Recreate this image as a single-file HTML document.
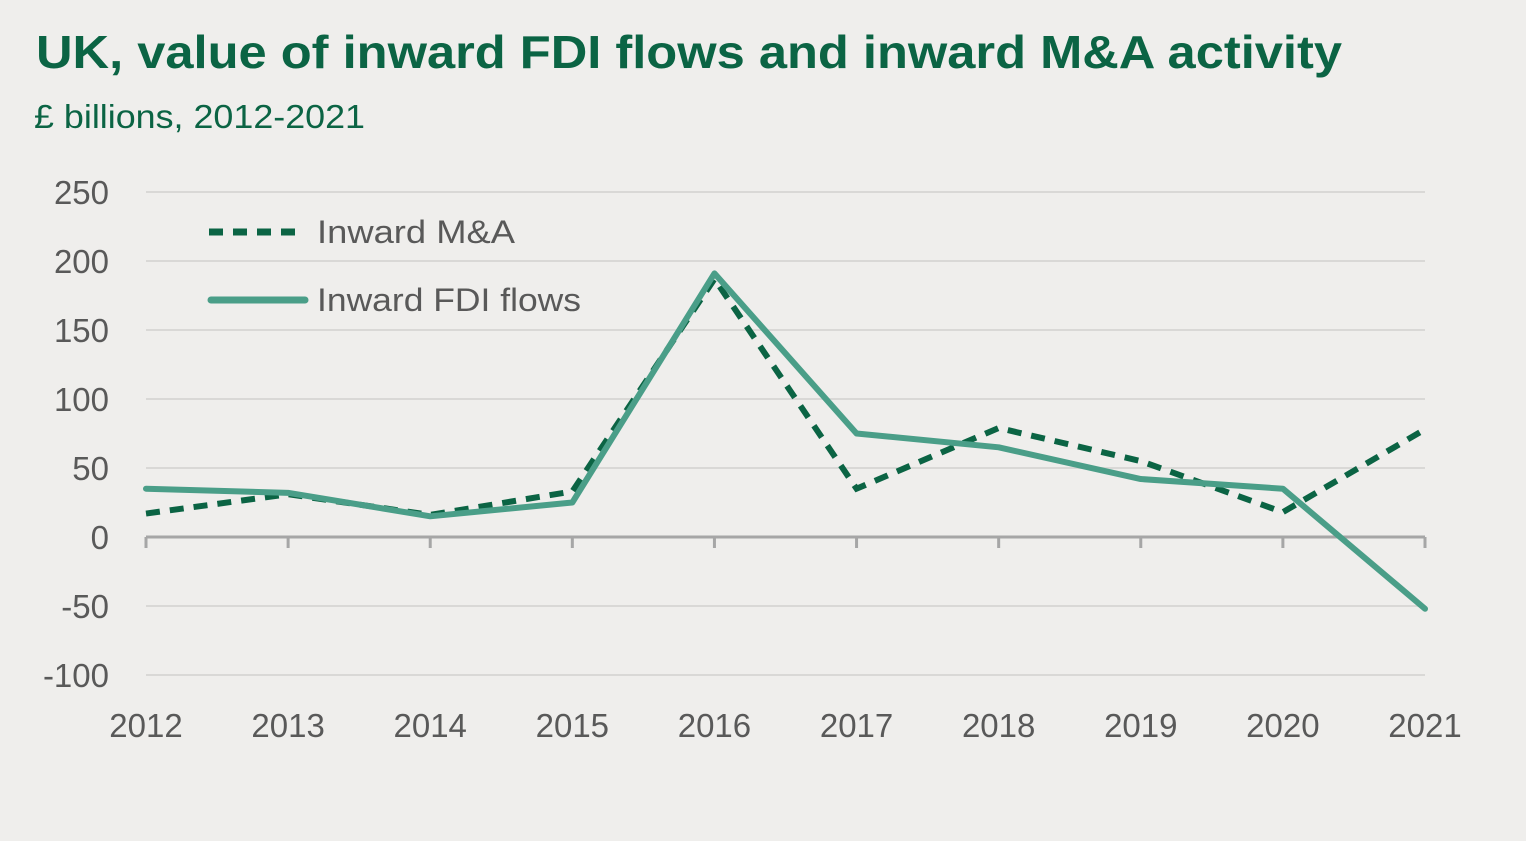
<!DOCTYPE html>
<html><head><meta charset="utf-8"><style>
body{margin:0;background:#efeeec;width:1526px;height:836px;overflow:hidden;font-family:"Liberation Sans",sans-serif}
</style></head><body>
<svg width="1526" height="836">
<text x="36" y="68" font-size="46" font-weight="bold" fill="#0b6444" textLength="1306" lengthAdjust="spacingAndGlyphs">UK, value of inward FDI flows and inward M&amp;A activity</text>
<text x="34" y="128" font-size="33" fill="#0b6444" textLength="331" lengthAdjust="spacingAndGlyphs">£ billions, 2012-2021</text>
<g id="grid"></g><g id="lines"></g>
<g>
<line x1="209" y1="232" x2="305" y2="232" stroke="#0b6444" stroke-width="7" stroke-dasharray="14,10"/>
<text x="317" y="243" font-size="32" fill="#595959" textLength="198" lengthAdjust="spacingAndGlyphs">Inward M&amp;A</text>
<line x1="211" y1="300" x2="305" y2="300" stroke="#4a9e88" stroke-width="7" stroke-linecap="round"/>
<text x="317" y="311" font-size="32" fill="#595959" textLength="264" lengthAdjust="spacingAndGlyphs">Inward FDI flows</text>
</g>
</svg>
<script>
const years=[2012,2013,2014,2015,2016,2017,2018,2019,2020,2021];
const fdi=[35,32,15,25,191,75,65,42,35,-52];
const ma=[17,31,16,33,187,35,79,55,18,78];
const yTicks=[250,200,150,100,50,0,-50,-100];
const NS="http://www.w3.org/2000/svg";
const X=i=>146+i*(1425-146)/(years.length-1);
const Y=v=>537-v*1.38;
const grid=document.getElementById('grid'),lines=document.getElementById('lines');
function mk(p,t,a){const e=document.createElementNS(NS,t);for(const k in a)e.setAttribute(k,a[k]);p.appendChild(e);return e;}
yTicks.forEach(v=>{
 if(v!==0){const l=mk(grid,'line',{x1:146,x2:1425,y1:Y(v),y2:Y(v),stroke:'#d9d8d6','stroke-width':2});
 
 }
 const t=mk(grid,'text',{x:109,y:Y(v)+12,'font-size':33,fill:'#595959','text-anchor':'end'});t.textContent=v;
 
 
});
const ax=mk(grid,'line',{x1:146,x2:1425,y1:Y(0),y2:Y(0),stroke:'#a6a6a6','stroke-width':3});


years.forEach((y,i)=>{
 const tk=mk(grid,'line',{x1:X(i),x2:X(i),y1:Y(0),y2:Y(0)+11,stroke:'#a6a6a6','stroke-width':3});
 
 
 const t=mk(grid,'text',{x:X(i),y:737,'font-size':33,fill:'#595959','text-anchor':'middle'});t.textContent=y;
 
 
});
const pts=a=>a.map((v,i)=>X(i)+','+Y(v)).join(' ');
const l2=mk(lines,'polyline',{points:pts(fdi),fill:'none',stroke:'#4a9e88','stroke-width':6,'stroke-linejoin':'round','stroke-linecap':'round'});


const l1=mk(lines,'polyline',{points:pts(ma),fill:'none',stroke:'#0b6444','stroke-width':6,'stroke-dasharray':'14,10'});


lines.appendChild(l2);
</script>
</body></html>
